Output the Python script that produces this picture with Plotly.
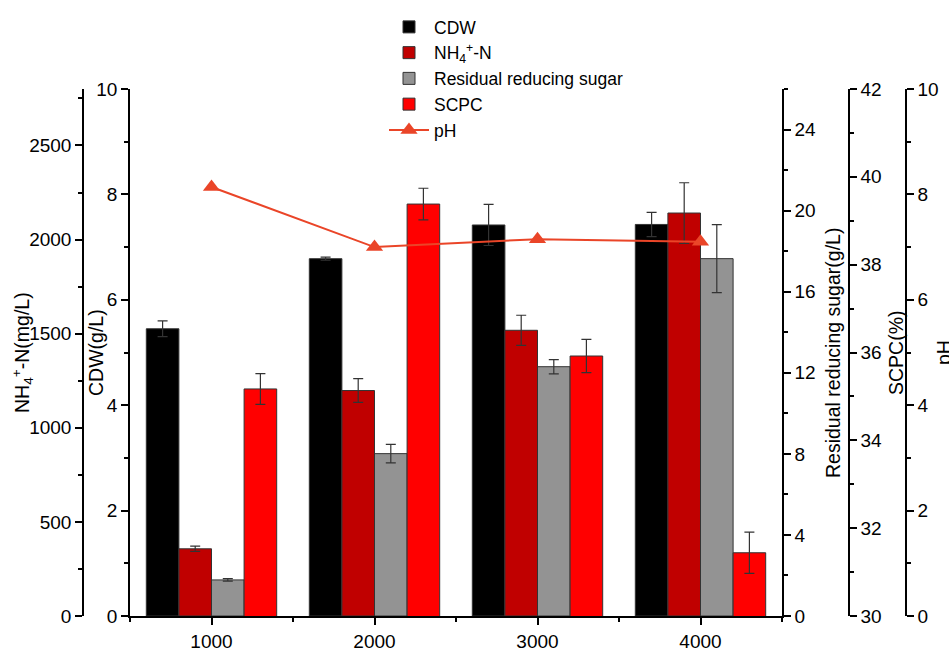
import plotly.graph_objects as go

# ---------------- data ----------------
conc = [1000, 2000, 3000, 4000]
cdw = [5.45, 6.78, 7.42, 7.43]
cdw_err = [0.15, 0.03, 0.39, 0.23]
nh4 = [357, 1198, 1518, 2141]
nh4_err = [14, 63, 80, 161]
sugar = [1.78, 8.01, 12.3, 17.63]
sugar_err = [0.06, 0.46, 0.35, 1.68]
scpc = [35.17, 39.38, 35.92, 31.44]
scpc_err = [0.35, 0.36, 0.38, 0.47]
ph = [8.14, 7.0, 7.15, 7.10]

W, H = 949, 655
FONT = "Arial, Liberation Sans, sans-serif"

x0_px, x1_px = 130, 782
dom = [x0_px / W, x1_px / W]
TOP, BOT = 89, 616
PH_ = BOT - TOP

bar_line = dict(color="#333333", width=1)
err_style = dict(type="data", visible=True, color="#333333", thickness=1.2, width=5)

fig = go.Figure()
fig.add_trace(go.Bar(x=conc, y=cdw, name="CDW", yaxis="y", width=200, offset=-400,
                     marker=dict(color="#000000", line=bar_line),
                     error_y=dict(array=cdw_err, **err_style)))
fig.add_trace(go.Bar(x=conc, y=nh4, name="NH<sub>4</sub><sup>+</sup>-N", yaxis="y2", width=200, offset=-200,
                     marker=dict(color="#C00000", line=bar_line),
                     error_y=dict(array=nh4_err, **err_style)))
fig.add_trace(go.Bar(x=conc, y=sugar, name="Residual reducing sugar", yaxis="y3", width=200, offset=0,
                     marker=dict(color="#939393", line=bar_line),
                     error_y=dict(array=sugar_err, **err_style)))
fig.add_trace(go.Bar(x=conc, y=scpc, name="SCPC", yaxis="y4", width=200, offset=200,
                     marker=dict(color="#FF0000", line=bar_line),
                     error_y=dict(array=scpc_err, **err_style)))
fig.add_trace(go.Scatter(x=conc, y=ph, name="pH", yaxis="y5", mode="lines+markers",
                         line=dict(color="#EA4528", width=2),
                         marker=dict(symbol="triangle-up", size=15, color="#EA4528")))

axis_common = dict(showgrid=False, zeroline=False, showline=True, linecolor="black", linewidth=1.5,
                   ticks="outside", ticklen=7, tickwidth=1.5, tickcolor="black",
                   tickfont=dict(family=FONT, size=19, color="black"), automargin=False)
minor_common = dict(ticks="outside", ticklen=4, tickwidth=1.5, tickcolor="black", showgrid=False)

fig.update_layout(
    width=W, height=H,
    margin=dict(l=0, r=0, t=TOP, b=H - BOT),
    paper_bgcolor="white", plot_bgcolor="white",
    barmode="overlay",
    font=dict(family=FONT, size=17.5, color="black"),
    xaxis=dict(domain=dom, range=[500, 4500], tickvals=conc, ticktext=[str(c) for c in conc],
               minor=dict(tick0=500, dtick=500, **minor_common), **axis_common),
    yaxis=dict(range=[0, 10], dtick=2, minor=dict(dtick=1, **minor_common), side="left",
               anchor="x", **axis_common),
    yaxis2=dict(range=[0, 2800], dtick=500, minor=dict(dtick=250, **minor_common), side="left",
                overlaying="y", anchor="free", position=83 / W, **axis_common),
    yaxis3=dict(range=[0, 26], dtick=4, minor=dict(dtick=2, **minor_common), side="right",
                overlaying="y", anchor="x", **axis_common),
    yaxis4=dict(range=[30, 42], dtick=2, minor=dict(dtick=1, **minor_common), side="right",
                overlaying="y", anchor="free", position=849 / W, **axis_common),
    yaxis5=dict(range=[0, 10], dtick=2, minor=dict(dtick=1, **minor_common), side="right",
                overlaying="y", anchor="free", position=906 / W, **axis_common),
    legend=dict(x=384 / W, y=(BOT - 9) / PH_, xanchor="left", yanchor="top",
                bgcolor="rgba(0,0,0,0)", font=dict(family=FONT, size=17.5, color="black"),
                tracegroupgap=0, itemwidth=40, traceorder="normal"),
    showlegend=True,
)

titles = [
    ("NH<sub>4</sub><sup>+</sup>-N(mg/L)", 22, 353),
    ("CDW(g/L)", 96, 353),
    ("Residual reducing sugar(g/L)", 833, 353),
    ("SCPC(%)", 896, 353),
    ("pH", 944, 353),
]
for txt, px, py in titles:
    fig.add_annotation(text=txt, x=px / W, y=(BOT - py) / PH_, xref="paper", yref="paper",
                       textangle=-90, showarrow=False, xanchor="center", yanchor="middle",
                       font=dict(family=FONT, size=19.5, color="black"))

fig.write_html("out.html", config={"displayModeBar": False},
               post_script="document.body.style.margin='0';")
